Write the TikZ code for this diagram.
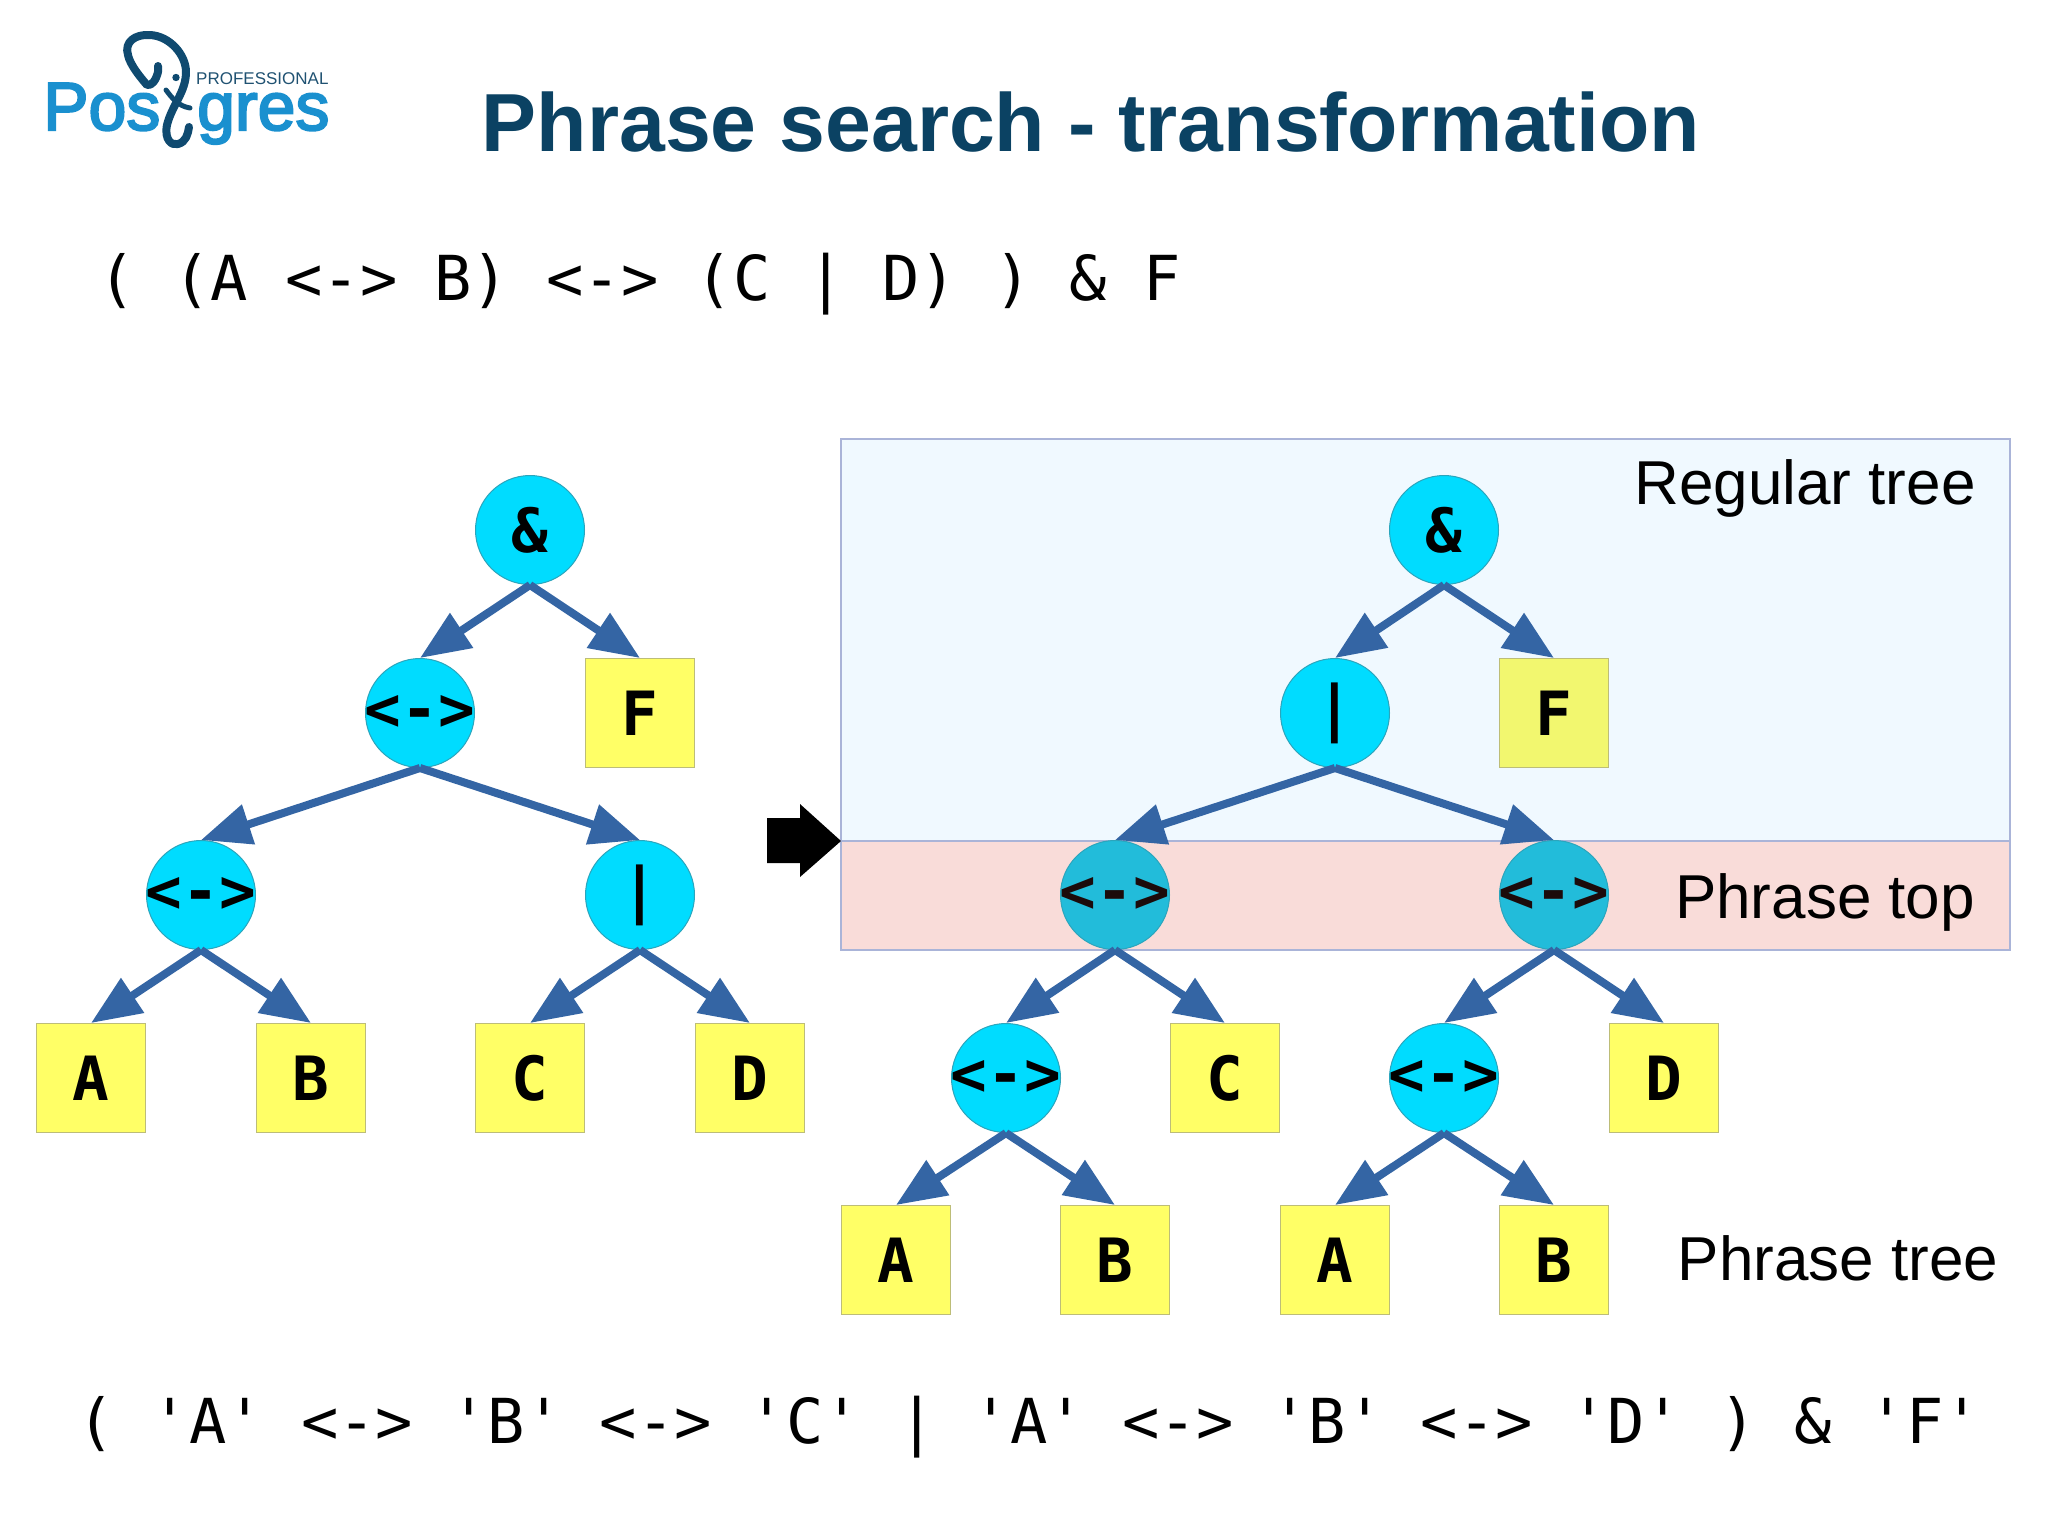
\documentclass[tikz,border=0pt]{standalone}
\usepackage{fontspec}
\setmainfont{Liberation Sans}
\newfontfamily\monofam{DejaVu Sans Mono}
\newfontfamily\monobold{DejaVu Sans Mono Bold}
\newfontfamily\logofam[FakeBold=3]{Liberation Sans}
\usetikzlibrary{arrows.meta}
\definecolor{titleblue}{HTML}{0B4263}
\definecolor{circfill}{HTML}{00DCFF}
\definecolor{circline}{HTML}{2BA5BC}
\definecolor{boxfill}{HTML}{FFFF66}
\definecolor{boxline}{HTML}{BDBD78}
\definecolor{edgeblue}{HTML}{3465A4}
\definecolor{bandline}{HTML}{AAB4D8}
\definecolor{logoblue}{HTML}{1A90CF}
\definecolor{logodark}{HTML}{0F4A70}
\definecolor{toptint}{HTML}{22BCDA}
\definecolor{topink}{HTML}{1C0B0B}
\definecolor{tintyellow}{HTML}{F2F76F}
\newcommand{\wide}[1]{\makebox[0pt][c]{#1}}
\tikzset{
  x=1pt,y=-1pt,
  opnode/.style={circle,draw=circline,line width=1pt,fill=circfill,minimum size=109pt,inner sep=0pt,font=\fontsize{61}{61}\monobold},
  topnode/.style={opnode,fill=toptint,text=topink},
  leafnode/.style={rectangle,draw=boxline,line width=1pt,fill=boxfill,minimum size=109pt,inner sep=0pt,font=\fontsize{61}{61}\monobold},
  tintleaf/.style={leafnode,fill=tintyellow},
  link/.style={draw=edgeblue,line width=8pt,-{Triangle[length=50pt,width=40pt]}},
  formula/.style={anchor=base,inner sep=0pt,font=\fontsize{62}{62}\monofam,text=black},
  caption/.style={anchor=base,inner sep=0pt,font=\fontsize{62}{62}\selectfont,text=black},
}
\begin{document}
\begin{tikzpicture}
\useasboundingbox (0,0) rectangle (2048,1535);
% bands
\fill[fill=white] (0,0) rectangle (2048,1535);
\draw[draw=bandline,line width=1.2pt,fill={rgb,255:red,240;green,249;blue,255}] (841,439) rectangle (2010,841);
\draw[draw=bandline,line width=1.2pt,fill={rgb,255:red,249;green,220;blue,217}] (841,841) rectangle (2010,950);
% big arrow
\fill[black] (767,818) -- (800,818) -- (800,804) -- (841,841) -- (800,877) -- (800,863) -- (767,863) -- cycle;
% logo
\node[anchor=base west,inner sep=0pt,text=logoblue,font=\fontsize{68}{68}\logofam] (logoa) at (43,130) {Pos};
\node[anchor=base west,inner sep=0pt,text=logoblue,font=\fontsize{68}{68}\logofam] (logob) at (197,130) {gres};
\node[anchor=base west,inner sep=0pt,text=logodark!85!gray,font=\fontsize{17}{17}\selectfont] (logoc) at (196,84) {PROFESSIONAL};
\draw[logodark,line width=8pt,line cap=round,line join=round]
  (158,66) -- (158,72) .. controls (156,80) and (152,86) .. (147,85)
  .. controls (141,78) and (130,65) .. (128,55)
  .. controls (124,42) and (135,34) .. (150,35)
  .. controls (170,36) and (186,55) .. (186,72)
  .. controls (186,92) and (172,105) .. (167,125)
  .. controls (164,140) and (172,146) .. (178,144)
  .. controls (186,142) and (188,134) .. (189,127);
\draw[logodark,line width=5pt,line cap=round] (166,90) .. controls (172,98) and (178,106) .. (190,108);
\fill[logodark] (176,77.5) circle[radius=3.7];
% left tree
\node[opnode] (la) at (530,530) {\&};
\node[opnode] (lb) at (420,713) {\wide{<->}};
\node[leafnode] (lf) at (640,713) {F};
\node[opnode] (lc) at (201,895) {\wide{<->}};
\node[opnode] (ld) at (640,895) {|};
\node[leafnode] (l1) at (91,1078) {A};
\node[leafnode] (l2) at (311,1078) {B};
\node[leafnode] (l3) at (530,1078) {C};
\node[leafnode] (l4) at (750,1078) {D};
% right tree
\node[opnode] (ra) at (1444,530) {\&};
\node[opnode] (rb) at (1335,713) {|};
\node[tintleaf] (rf) at (1554,713) {F};
\node[topnode] (rc) at (1115,895) {\wide{<->}};
\node[topnode] (rd) at (1554,895) {\wide{<->}};
\node[opnode] (re) at (1006,1078) {\wide{<->}};
\node[leafnode] (r3) at (1225,1078) {C};
\node[opnode] (rg) at (1444,1078) {\wide{<->}};
\node[leafnode] (r4) at (1664,1078) {D};
\node[leafnode] (r1) at (896,1260) {A};
\node[leafnode] (r2) at (1115,1260) {B};
\node[leafnode] (r5) at (1335,1260) {A};
\node[leafnode] (r6) at (1554,1260) {B};
% links
\foreach \p/\q in {la/lb,la/lf,lb/lc,lb/ld,lc/l1,lc/l2,ld/l3,ld/l4,
  ra/rb,ra/rf,rb/rc,rb/rd,rc/re,rc/r3,rd/rg,rd/r4,re/r1,re/r2,rg/r5,rg/r6}
  \draw[link] (\p.south) -- (\q.north);
% text
\node[anchor=base,inner sep=0pt,text=titleblue,font=\fontsize{82.4}{83}\selectfont\bfseries] (title) at (1091,151) {Phrase search - transformation};
\node[formula] (f1) at (640,300) {( (A <-> B) <-> (C | D) ) \& F};
\node[formula] (f2) at (1029,1443) {( 'A' <-> 'B' <-> 'C' | 'A' <-> 'B' <-> 'D' ) \& 'F'};
\node[caption] (c1) at (1805,504) {Regular tree};
\node[caption] (c2) at (1825,918) {Phrase top};
\node[caption] (c3) at (1838,1280) {Phrase tree};
\end{tikzpicture}
\end{document}
